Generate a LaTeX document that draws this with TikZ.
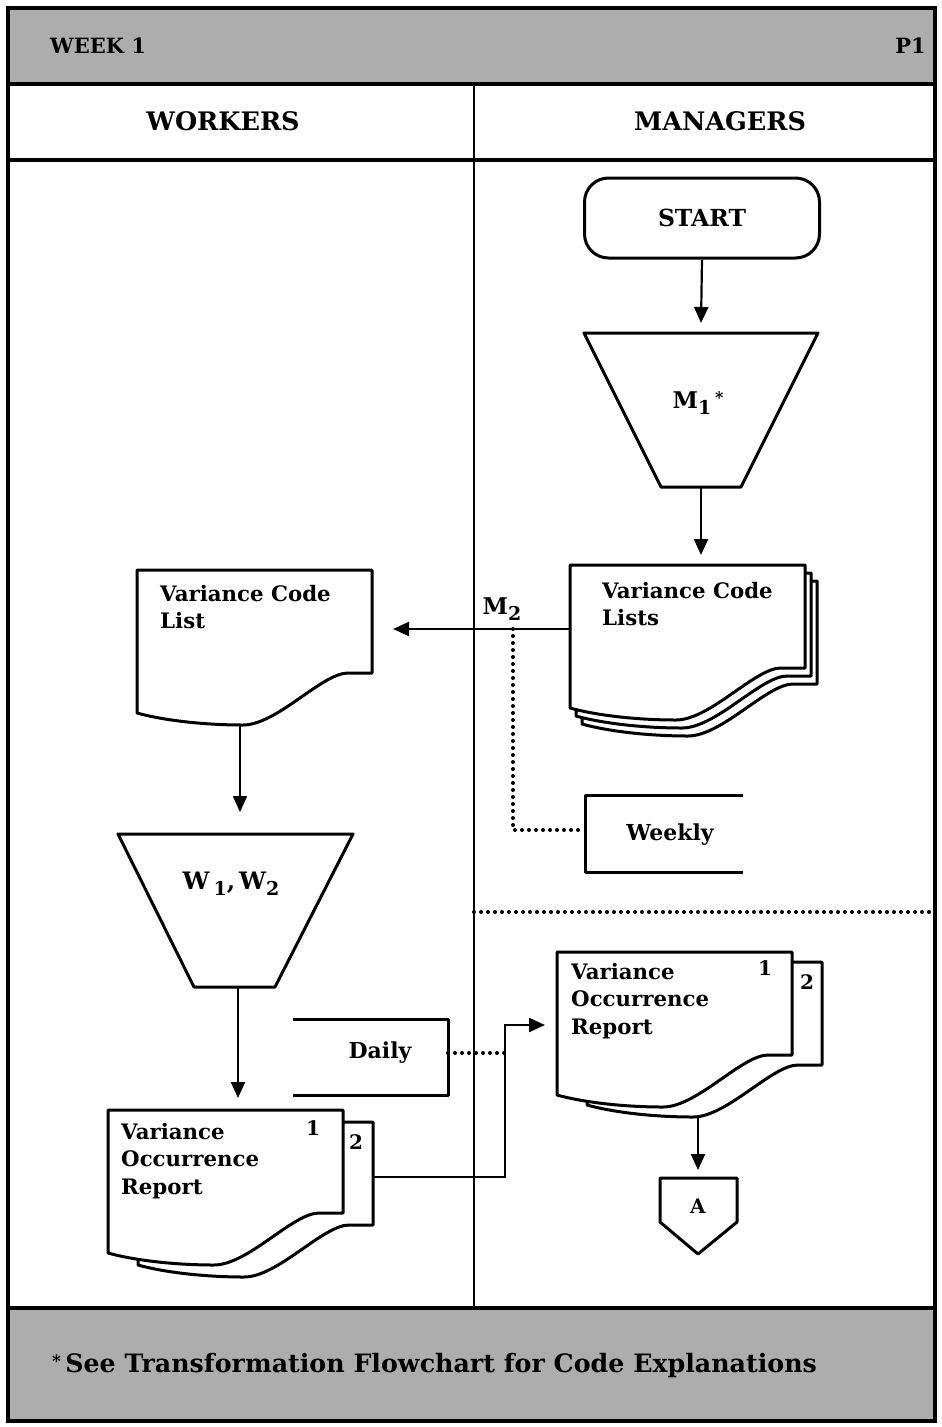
\documentclass[tikz,border=0pt]{standalone}
\usepackage{fontspec}
\setmainfont{DejaVu Serif}
\usetikzlibrary{arrows.meta}
\definecolor{bandgray}{gray}{0.68}

% one sheet of a paper document, top-left corner at the origin of the scope
\newcommand\sheet[1]{%
  \path[shapeline,draw,fill=white,shift={#1}]
    (0,0) -- (235,0) -- (235,103) -- (211,103)
    .. controls (185,103) and (140,155) .. (106,155)
    .. controls (65,155) and (25,150) .. (0,143) -- cycle;}

\begin{document}
\begin{tikzpicture}[x=1pt,y=-1pt,
  frame/.style={line width=3.4pt},
  rule/.style={line width=2.4pt},
  shapeline/.style={line width=3pt,line join=round},
  conn/.style={line width=2.2pt},
  arr/.style={conn,-{Triangle[length=16pt,width=14pt]}},
  dots/.style={line width=4pt,line cap=round,dash pattern=on 0pt off 7pt},
  doctext/.style={font=\bfseries\fontsize{21.3}{27.5}\selectfont,align=left,anchor=north west,inner sep=0pt},
  numtext/.style={font=\bfseries\fontsize{20}{20}\selectfont,inner sep=0pt},
  hdr/.style={font=\bfseries\fontsize{25.5}{25.5}\selectfont,inner sep=0pt},
  lbltext/.style={font=\bfseries\fontsize{22}{22}\selectfont,inner sep=0pt},
]
\useasboundingbox (0,0) rectangle (942,1427);
\fill[white] (0,0) rectangle (942,1427);

% ---- page frame, title band, lane headers, footer band ----
\fill[bandgray] (8,8) rectangle (935,84);
\fill[bandgray] (8,1308) rectangle (935,1421);
\draw[frame] (8,8) rectangle (935,1421);
\draw[frame] (8,84) -- (935,84);
\draw[frame] (8,160) -- (935,160);
\draw[frame] (8,1308) -- (935,1308);
\draw[rule] (474,84) -- (474,1308);

\node[font=\bfseries\fontsize{21}{21}\selectfont,anchor=west,inner sep=0pt] (week) at (50,46) {WEEK 1};
\node[font=\bfseries\fontsize{21}{21}\selectfont,anchor=east,inner sep=0pt] (page) at (926,46) {P1};
\node[hdr] (workers) at (223,121) {WORKERS};
\node[hdr] (managers) at (720,121) {MANAGERS};
\node[font=\bfseries\fontsize{25.3}{25.3}\selectfont,anchor=west,inner sep=0pt] (note) at (52,1366)
  {\raisebox{5pt}{\fontsize{17}{17}\selectfont *}\,See Transformation Flowchart for Code Explanations};

% ---- managers lane ----
\node[draw,shapeline,rounded corners=24pt,minimum width=235pt,minimum height=80pt,
      font=\bfseries\fontsize{23.5}{23.5}\selectfont] (start) at (702,218) {START};

\draw[shapeline] (584,333) -- (818,333) -- (741,487) -- (661,487) -- cycle;
\node[lbltext,font=\bfseries\fontsize{23}{23}\selectfont] (m1) at (698,403)
  {M\raisebox{-6pt}{\fontsize{19}{19}\selectfont 1}\,\raisebox{5pt}{\fontsize{16}{16}\selectfont *}};
\coordinate (m1top) at (701,323);
\coordinate (m1bot) at (701,487);

% stack of code lists
\sheet{(582,581)}
\sheet{(576,573)}
\sheet{(570,565)}
\node[doctext] (vclists) at (602,582) {Variance Code\\Lists};
\coordinate (vclistsTop) at (701,555);
\coordinate (vclistsOut) at (570,629);

\draw[arr] (start.south) -- (m1top);
\draw[arr] (m1bot) -- (vclistsTop);

% weekly annotation
\draw[shapeline] (743,795) -- (585,795) -- (585,872) -- (743,872);
\node[lbltext] (weekly) at (670,835) {Weekly};
\coordinate (m2tap) at (513,629);
\coordinate (weeklyIn) at (585,830);

% lane boundary between weekly and daily activities
\coordinate (sepL) at (474,912);
\coordinate (sepR) at (935,912);
\draw[dots] (sepL) -- (sepR);

% received occurrence report
\sheet{(587,962)}
\sheet{(557,952)}
\node[numtext] (m1no) at (765,968) {1};
\node[numtext] (m2no) at (807,982) {2};
\node[doctext] (vorm) at (571,963) {Variance\\Occurrence\\Report};
\coordinate (vormIn) at (545,1025);
\coordinate (vormOut) at (698,1117);

% off-page connector
\draw[shapeline] (660,1178) -- (737,1178) -- (737,1222) -- (698,1254) -- (660,1222) -- cycle;
\node[lbltext,font=\bfseries\fontsize{20}{20}\selectfont] (conA) at (698,1206) {A};
\coordinate (conAtop) at (698,1170);
\draw[arr] (vormOut) -- (conAtop);

% ---- workers lane ----
\sheet{(137,570)}
\node[doctext] (vcl) at (160,585) {Variance Code\\List};
\coordinate (vclIn) at (393,629);
\coordinate (vclOut) at (240,725);

\draw[arr] (vclistsOut) -- (vclIn);
\node[lbltext,font=\bfseries\fontsize{23}{23}\selectfont] (m2) at (502,609)
  {M\raisebox{-6pt}{\fontsize{19}{19}\selectfont 2}};
\draw[dots] (m2tap) -- (513,830) -- (weeklyIn);

\draw[shapeline] (118,834) -- (353,834) -- (275,987) -- (194,987) -- cycle;
\node[lbltext,font=\bfseries\fontsize{24}{24}\selectfont] (w) at (231,884)
  {W\,\raisebox{-6pt}{\fontsize{19}{19}\selectfont 1},\,W\raisebox{-6pt}{\fontsize{19}{19}\selectfont 2}};
\coordinate (wtop) at (240,812);
\coordinate (wbot) at (238,987);
\draw[arr] (vclOut) -- (wtop);

% daily annotation
\draw[shapeline] (293,1019) -- (448,1019) -- (448,1095) -- (293,1095);
\node[lbltext] (daily) at (380,1053) {Daily};
\coordinate (dailyOut) at (448,1053);
\coordinate (jog) at (505,1025);
\draw[dots] (dailyOut) -- (505,1053);

% prepared occurrence report
\sheet{(138,1122)}
\sheet{(108,1110)}
\node[numtext] (w1no) at (313,1128) {1};
\node[numtext] (w2no) at (356,1142) {2};
\node[doctext] (vorw) at (121,1123) {Variance\\Occurrence\\Report};
\coordinate (vorwTop) at (238,1098);
\coordinate (vorwOut) at (373,1177);

\draw[arr] (wbot) -- (vorwTop);
\draw[arr] (vorwOut) -| (jog) -- (vormIn);
\end{tikzpicture}
\end{document}
